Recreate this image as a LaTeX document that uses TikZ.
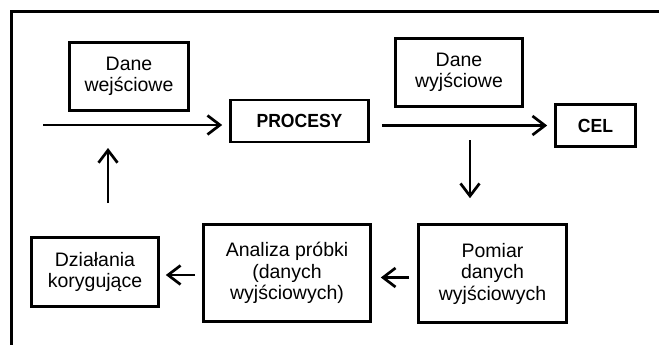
\documentclass[tikz,border=0pt]{standalone}
\usepackage{fontspec}
\setmainfont{Liberation Sans}
\newfontfamily\narrowbold[FakeStretch=0.925]{Liberation Sans Bold}
\usetikzlibrary{arrows.meta}
\begin{document}
\begin{tikzpicture}[x=1pt,y=-1pt,
  box/.style={draw,line width=2.6pt,align=center,inner sep=0pt,
    font=\fontsize{19.5}{21.5}\selectfont},
  bbox/.style={box,font=\narrowbold\fontsize{19}{21}\selectfont},
  arr/.style={line width=2.7pt,-{Straight Barb[length=12.5pt,width=19pt,line width=2.7pt]}}]
\useasboundingbox (0,0) rectangle (659,345);
\draw[line width=3pt] (11,345) -- (11,12) -- (659,12);
\node[box,minimum width=119pt,minimum height=68pt] (din) at (129,76.5) {Dane\\wejściowe};
\node[bbox,minimum width=138pt,minimum height=42pt] (proc) at (299.5,121) {PROCESY};
\node[box,minimum width=127pt,minimum height=68pt] (dout) at (459,72.5) {Dane\\wyjściowe};
\node[bbox,minimum width=80pt,minimum height=42pt] (cel) at (595.5,125.5) {CEL};
\node[box,minimum width=127pt,minimum height=69pt] (dzial) at (95,272) {Działania\\korygujące};
\node[box,minimum width=167pt,minimum height=97pt] (anal) at (287,273) {Analiza próbki\\(danych\\wyjściowych)};
\node[box,minimum width=148pt,minimum height=98pt] (pom) at (492.5,273.5) {Pomiar\\danych\\wyjściowych};
\coordinate (in) at (43,125);
\coordinate (down) at (470,140);
\coordinate (upx) at (108,148);
\draw[arr,shorten >=7pt] (in) -- (in -| proc.west);
\draw[arr,shorten <=12pt,shorten >=7pt] (proc.east |- cel.west) -- (cel.west);
\draw[arr,shorten >=25pt] (down) -- (down |- pom.north);
\draw[arr,shorten <=33pt] (upx |- dzial.north) -- (upx);
\draw[arr,shorten <=7pt,shorten >=6pt] ([yshift=-2pt]anal.west) -- ([yshift=-2pt]anal.west -| dzial.east);
\draw[arr,shorten <=8pt,shorten >=9pt] ([yshift=-4pt]pom.west) -- ([yshift=-4pt]pom.west -| anal.east);
\end{tikzpicture}
\end{document}
